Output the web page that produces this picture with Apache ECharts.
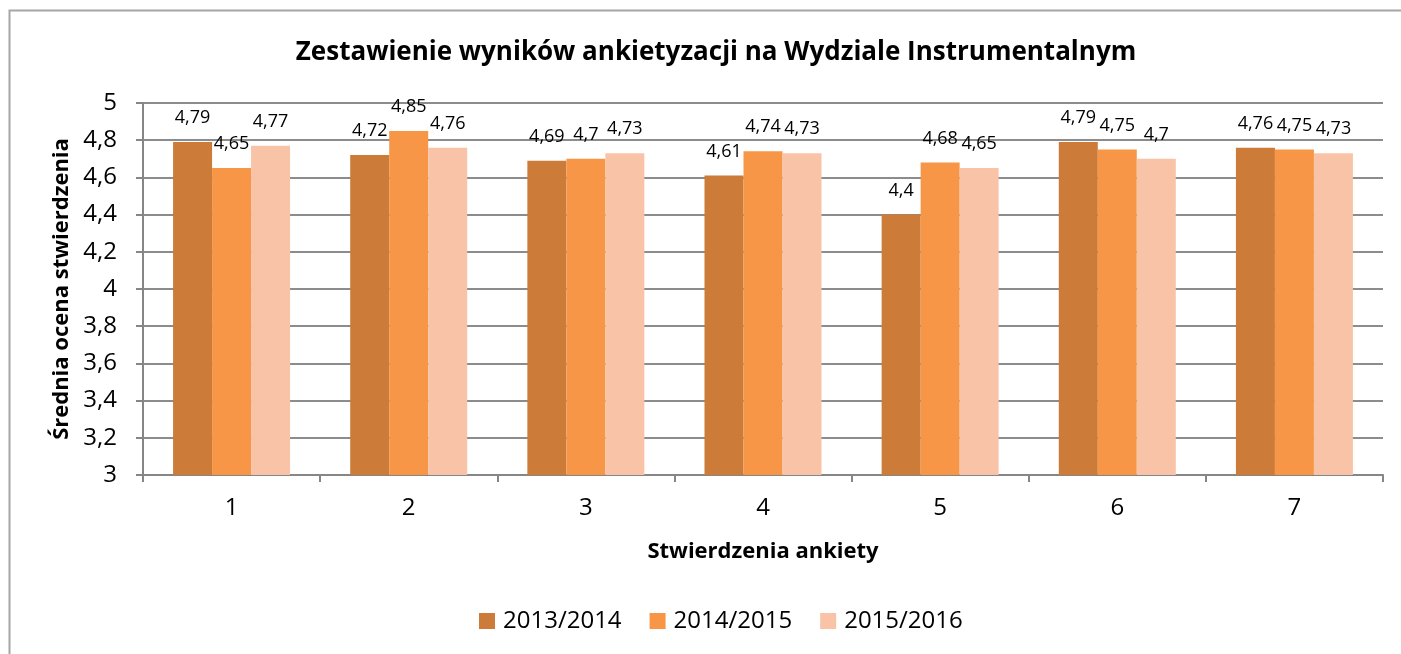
<!doctype html>
<html lang="pl">
<head>
    <meta charset="UTF-8">
    <title>Zestawienie wyników ankietyzacji</title>
    <script src="https://cdn.jsdelivr.net/npm/echarts@6/dist/echarts.min.js"></script>
    <style>
        html, body { margin: 0; padding: 0; background: #fff; }
        #main { width: 1401px; height: 654px; }
    </style>
</head>
<body>
<div id="main"></div>
<script type="text/javascript">
    // dane
    var kategorie = ['1', '2', '3', '4', '5', '6', '7'];
    var lata = ['2013/2014', '2014/2015', '2015/2016'];
    var r2013 = [4.79, 4.72, 4.69, 4.61, 4.40, 4.79, 4.76];
    var r2014 = [4.65, 4.85, 4.70, 4.74, 4.68, 4.75, 4.75];
    var r2015 = [4.77, 4.76, 4.73, 4.73, 4.65, 4.70, 4.73];
    var kolory = ['#CC7B38', '#F79646', '#F9C3A8'];

    var fnt = '"Open Sans", "Noto Sans", sans-serif';

    function przecinek(v) {
        return String(Math.round(v * 100) / 100).replace('.', ',');
    }

    function seria(nazwa, dane, kolor) {
        return {
            name: nazwa,
            type: 'bar',
            data: dane,
            barWidth: 39,
            barGap: '0%',
            itemStyle: { color: kolor },
            label: {
                show: true,
                position: 'top',
                distance: 15,
                color: '#000',
                fontFamily: fnt,
                fontSize: 18,
                formatter: function (p) { return przecinek(p.value); }
            }
        };
    }

    var myChart = echarts.init(document.getElementById('main'));

    var option = {
        animation: false,
        backgroundColor: '#fff',
        graphic: [{
            type: 'rect',
            shape: { x: 9.5, y: 10.5, width: 1500, height: 800 },
            style: { fill: 'none', stroke: '#A6A6A6', lineWidth: 2 },
            silent: true
        }],
        title: {
            text: 'Zestawienie wyników ankietyzacji na Wydziale Instrumentalnym',
            left: 711,
            top: 35,
            textAlign: 'center',
            textStyle: { fontFamily: fnt, fontSize: 26, fontWeight: 'bold', color: '#000' }
        },
        legend: {
            data: lata,
            bottom: 16,
            left: 474,
            itemWidth: 16,
            itemHeight: 16,
            itemGap: 28,
            icon: 'rect',
            textStyle: { fontFamily: fnt, fontSize: 24, color: '#000', padding: [0, 0, 0, 3] }
        },
        grid: {
            left: 143,
            right: 18,
            top: 103,
            bottom: 179,
            containLabel: false
        },
        xAxis: {
            type: 'category',
            data: kategorie,
            name: 'Stwierdzenia ankiety',
            nameLocation: 'middle',
            nameGap: 66,
            nameTextStyle: { fontFamily: fnt, fontSize: 22, fontWeight: 'bold', color: '#000' },
            axisLine: { lineStyle: { color: '#868686', width: 2 } },
            axisTick: { show: true, length: 7, lineStyle: { color: '#868686', width: 2 } },
            axisLabel: { fontFamily: fnt, fontSize: 24, color: '#000', margin: 21 }
        },
        yAxis: {
            type: 'value',
            min: 3,
            max: 5,
            interval: 0.2,
            name: 'Średnia ocena stwierdzenia',
            nameLocation: 'middle',
            nameGap: 70,
            nameTextStyle: { fontFamily: fnt, fontSize: 22, fontWeight: 'bold', color: '#000' },
            axisLine: { show: true, lineStyle: { color: '#868686', width: 2 } },
            axisTick: { show: true, length: 7, lineStyle: { color: '#868686', width: 2 } },
            splitLine: { lineStyle: { color: '#8C8C8C', width: 2 } },
            axisLabel: {
                fontFamily: fnt,
                fontSize: 24,
                color: '#000',
                margin: 26,
                formatter: function (v) { return przecinek(v); }
            }
        },
        series: [
            seria(lata[0], r2013, kolory[0]),
            seria(lata[1], r2014, kolory[1]),
            seria(lata[2], r2015, kolory[2])
        ]
    };

    myChart.setOption(option);
</script>
</body>
</html>
